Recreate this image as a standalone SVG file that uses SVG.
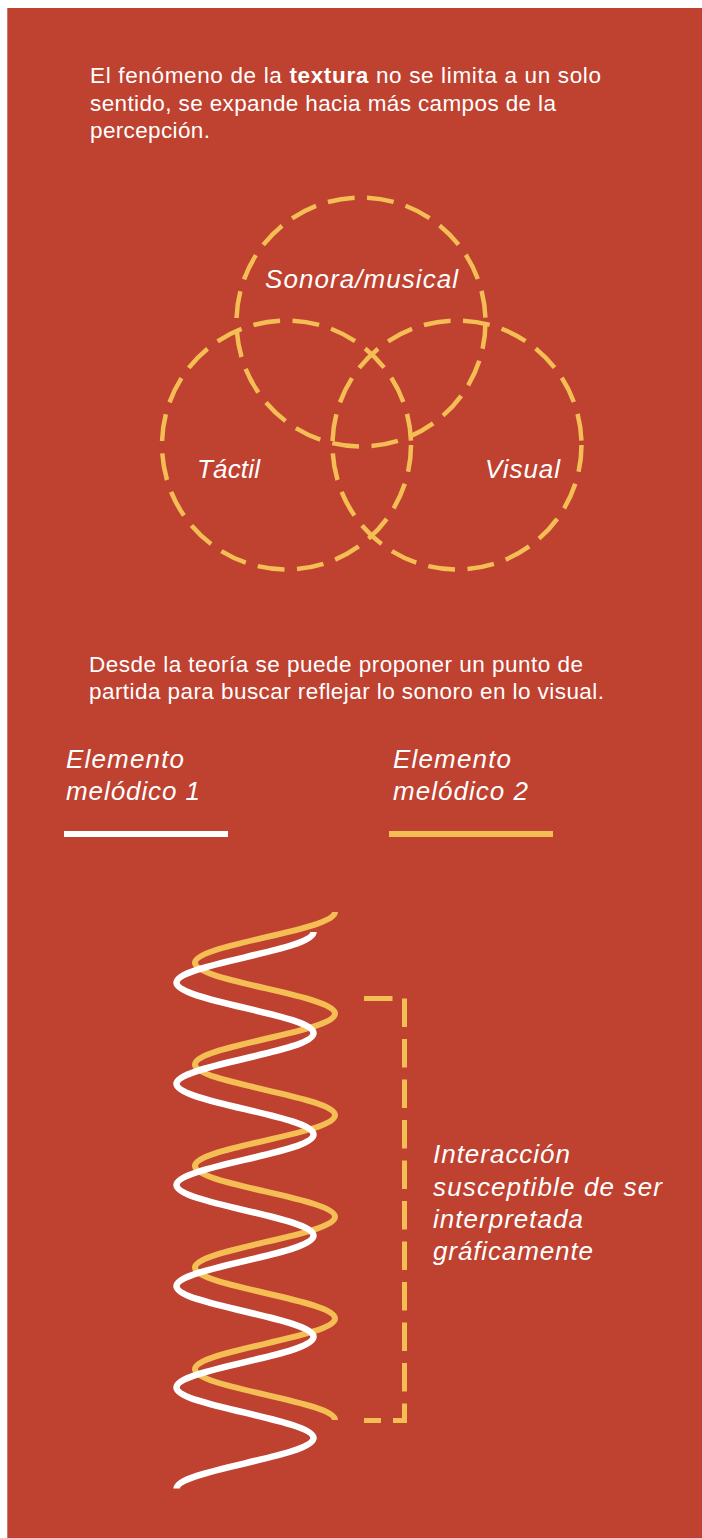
<svg xmlns="http://www.w3.org/2000/svg" width="702" height="1538" viewBox="0 0 702 1538">
<style>
.txt{font-family:"Liberation Sans",Arial,sans-serif;fill:#ffffff;font-size:22.5px}
.lbl{font-family:"Liberation Sans",Arial,sans-serif;fill:#ffffff;font-size:26px;font-style:italic}
.venn{fill:none;stroke:#F4BE55;stroke-width:4.5;stroke-dasharray:27 12.5}
</style>
<rect x="0" y="0" width="702" height="1538" fill="#ffffff"/>
<rect x="7.3" y="8" width="694.7" height="1530" fill="#BF4130"/>
<g id="intro">
<text class="txt" x="90" y="83" textLength="511" lengthAdjust="spacing">El fenómeno de la <tspan font-weight="bold">textura</tspan> no se limita a un solo</text>
<text class="txt" x="90" y="111" textLength="466" lengthAdjust="spacing">sentido, se expande hacia más campos de la</text>
<text class="txt" x="90" y="138" textLength="120" lengthAdjust="spacing">percepción.</text>
</g>
<g id="venn-sonora">
<circle class="venn" cx="361" cy="322" r="124.5"/>
<text class="lbl" x="265" y="288" textLength="193" lengthAdjust="spacing">Sonora/musical</text>
</g>
<g id="venn-tactil">
<circle class="venn" cx="286.5" cy="445" r="124.5"/>
<text class="lbl" x="197" y="478" textLength="63" lengthAdjust="spacing">Táctil</text>
</g>
<g id="venn-visual">
<circle class="venn" cx="457" cy="445" r="124.5"/>
<text class="lbl" x="485" y="478" textLength="75" lengthAdjust="spacing">Visual</text>
</g>
<g id="theory">
<text class="txt" x="89" y="672" textLength="494" lengthAdjust="spacing">Desde la teoría se puede proponer un punto de</text>
<text class="txt" x="89" y="699" textLength="515" lengthAdjust="spacing">partida para buscar reflejar lo sonoro en lo visual.</text>
</g>
<g id="legend-1">
<text class="lbl" x="66" y="768" textLength="118" lengthAdjust="spacing">Elemento</text>
<text class="lbl" x="66" y="800" textLength="134" lengthAdjust="spacing">melódico 1</text>
<rect x="64" y="831" width="164" height="6" fill="#ffffff"/>
</g>
<g id="legend-2">
<text class="lbl" x="393" y="768" textLength="118" lengthAdjust="spacing">Elemento</text>
<text class="lbl" x="393" y="800" textLength="135" lengthAdjust="spacing">melódico 2</text>
<rect x="389" y="831" width="164" height="6" fill="#F4BE55"/>
</g>
<g id="waves">
<path id="wave-2" fill="none" stroke="#F4BE55" stroke-width="6" d="M335,912
c0,9.193 -34.14,17.116 -70,25.4 c-35.86,8.284 -70,16.207 -70,25.4 c0,9.193 34.14,17.116 70,25.4 c35.86,8.284 70,16.207 70,25.4
c0,9.193 -34.14,17.116 -70,25.4 c-35.86,8.284 -70,16.207 -70,25.4 c0,9.193 34.14,17.116 70,25.4 c35.86,8.284 70,16.207 70,25.4
c0,9.193 -34.14,17.116 -70,25.4 c-35.86,8.284 -70,16.207 -70,25.4 c0,9.193 34.14,17.116 70,25.4 c35.86,8.284 70,16.207 70,25.4
c0,9.193 -34.14,17.116 -70,25.4 c-35.86,8.284 -70,16.207 -70,25.4 c0,9.193 34.14,17.116 70,25.4 c35.86,8.284 70,16.207 70,25.4
c0,9.193 -34.14,17.116 -70,25.4 c-35.86,8.284 -70,16.207 -70,25.4 c0,9.193 34.14,17.116 70,25.4 c35.86,8.284 70,16.207 70,25.4"/>
<path id="wave-1" fill="none" stroke="#ffffff" stroke-width="6.5" d="M313.5,932
c0,9.156 -33.41,17.049 -68.5,25.3 c-35.09,8.251 -68.5,16.143 -68.5,25.3 c0,9.156 33.41,17.049 68.5,25.3 c35.09,8.251 68.5,16.143 68.5,25.3
c0,9.156 -33.41,17.049 -68.5,25.3 c-35.09,8.251 -68.5,16.143 -68.5,25.3 c0,9.156 33.41,17.049 68.5,25.3 c35.09,8.251 68.5,16.143 68.5,25.3
c0,9.156 -33.41,17.049 -68.5,25.3 c-35.09,8.251 -68.5,16.143 -68.5,25.3 c0,9.156 33.41,17.049 68.5,25.3 c35.09,8.251 68.5,16.143 68.5,25.3
c0,9.156 -33.41,17.049 -68.5,25.3 c-35.09,8.251 -68.5,16.143 -68.5,25.3 c0,9.156 33.41,17.049 68.5,25.3 c35.09,8.251 68.5,16.143 68.5,25.3
c0,9.156 -33.41,17.049 -68.5,25.3 c-35.09,8.251 -68.5,16.143 -68.5,25.3 c0,9.156 33.41,17.049 68.5,25.3 c35.09,8.251 68.5,16.143 68.5,25.3
c0,9.156 -33.41,17.049 -68.5,25.3 c-35.09,8.251 -68.5,16.143 -68.5,25.3"/>
</g>
<g id="interaction">
<path fill="none" stroke="#F4BE55" stroke-width="5" stroke-dasharray="28.5 12" d="M364,998.5 H404.5 V1420.5 H364"/>
<text class="lbl" x="433" y="1163" textLength="137" lengthAdjust="spacing">Interacción</text>
<text class="lbl" x="433" y="1196" textLength="229" lengthAdjust="spacing">susceptible de ser</text>
<text class="lbl" x="433" y="1228" textLength="150" lengthAdjust="spacing">interpretada</text>
<text class="lbl" x="433" y="1260" textLength="160" lengthAdjust="spacing">gráficamente</text>
</g>
</svg>
